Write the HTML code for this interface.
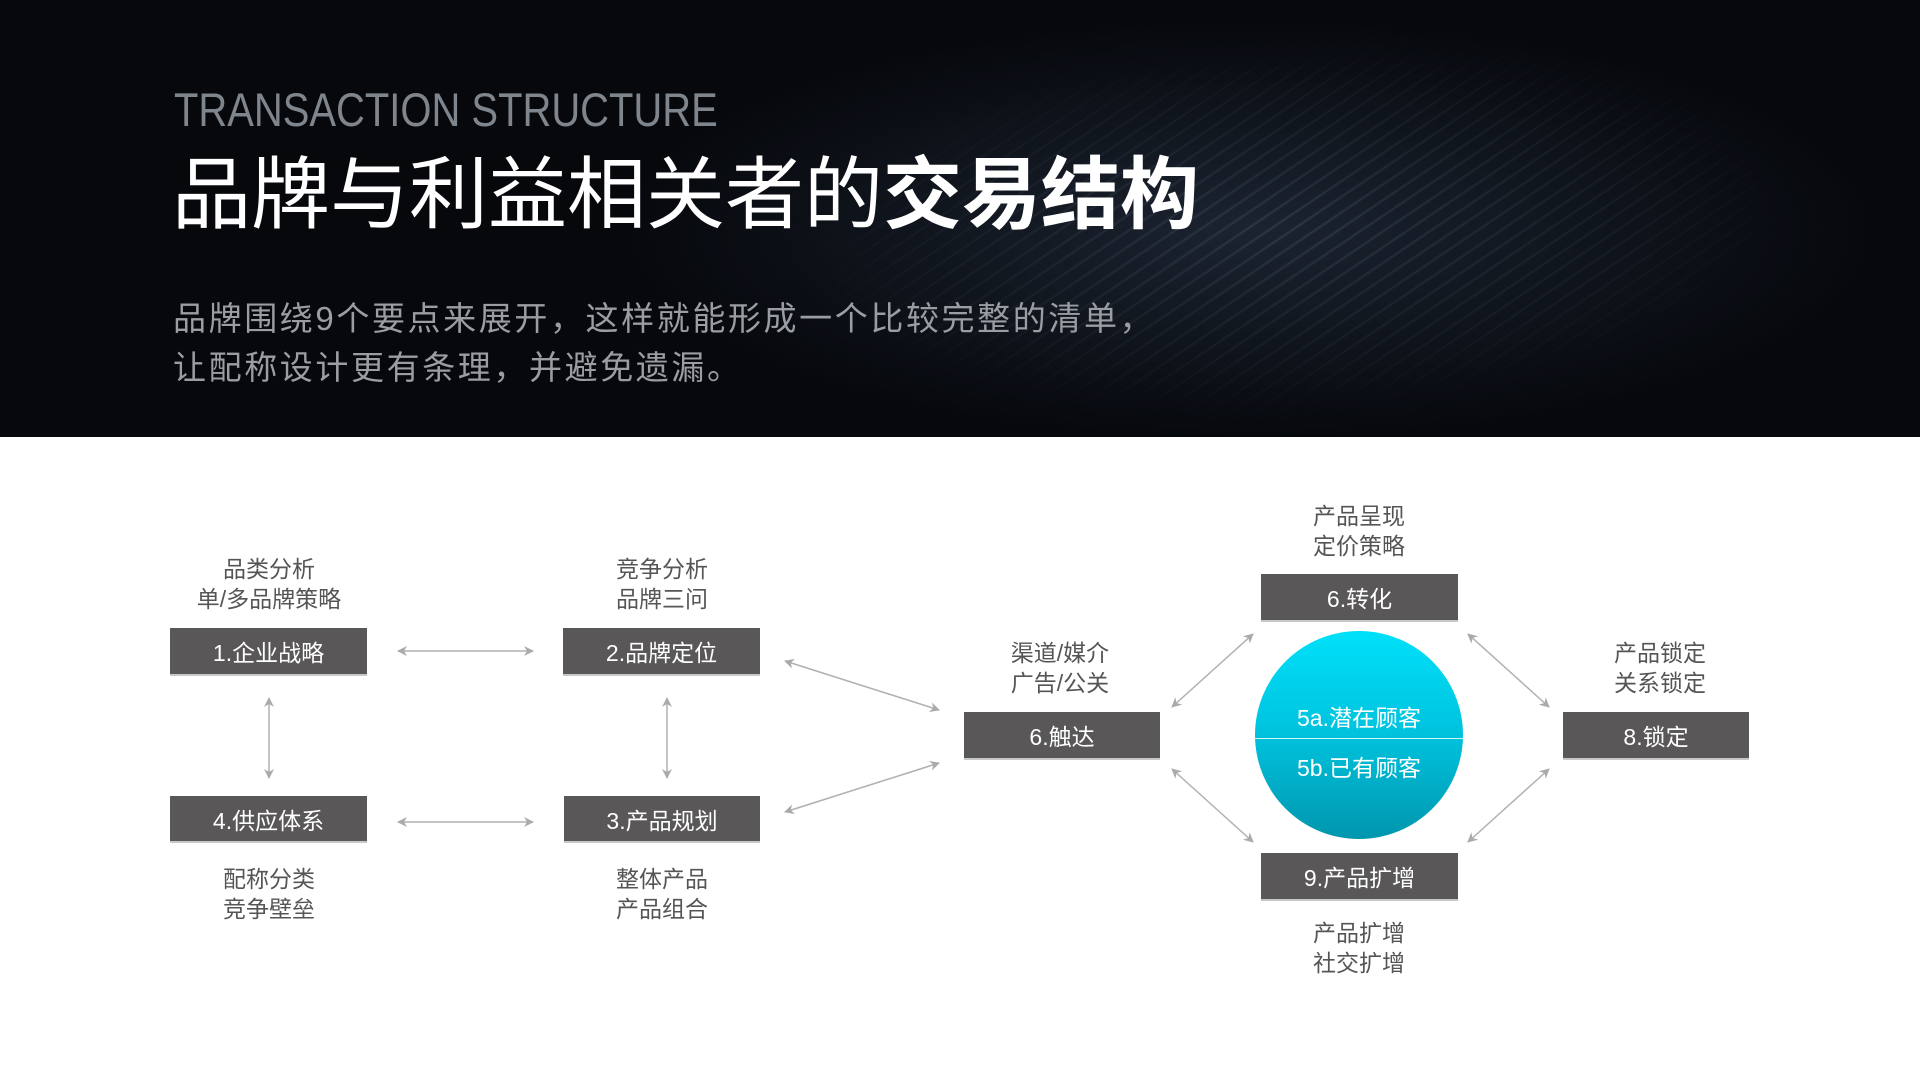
<!DOCTYPE html>
<html><head><meta charset="utf-8"><style>
html,body{margin:0;padding:0;width:1920px;height:1080px;overflow:hidden;background:#fff;font-family:"Liberation Sans","Noto Sans CJK SC",sans-serif;}
.hdr{position:absolute;left:0;top:0;width:1920px;height:437px;background:#06080c;overflow:hidden;}
.glow{position:absolute;left:0;top:0;width:1920px;height:437px;background:radial-gradient(ellipse 900px 300px at 1250px 230px,rgba(45,58,78,.55),rgba(0,0,0,0) 70%);}
.stripes{position:absolute;left:700px;top:-200px;width:1400px;height:800px;background:repeating-linear-gradient(150deg,rgba(120,140,170,0) 0px,rgba(120,140,170,0) 9px,rgba(120,140,170,.22) 11px,rgba(120,140,170,0) 13px);transform:rotate(-4deg);-webkit-mask-image:radial-gradient(ellipse 700px 260px at 600px 420px,#000,transparent 75%);mask-image:radial-gradient(ellipse 700px 260px at 600px 420px,#000,transparent 75%);}
.t1{position:absolute;left:174px;top:82px;font-size:47px;color:#7f858c;font-weight:300;transform:scaleX(0.85);transform-origin:0 0;white-space:nowrap;}
.t2{position:absolute;left:172px;top:150px;font-size:79px;color:#fff;line-height:90px;white-space:nowrap;}
.t2 b{font-weight:bold;}
.t3{position:absolute;left:173px;top:294px;font-size:33px;line-height:49px;color:#9a9da2;white-space:nowrap;letter-spacing:2.6px;}
.box{position:absolute;background:#595758;color:#fff;font-size:23px;display:flex;align-items:center;justify-content:center;box-shadow:0 2px 0 #c8c8c8;}
.lab{position:absolute;font-size:23px;line-height:30px;color:#555;text-align:center;width:240px;}
.circ{position:absolute;left:1255px;top:631px;width:208px;height:208px;border-radius:50%;background:linear-gradient(#00e0fa,#00c2dd 50%,#0096ae);overflow:hidden;}
.circ .ln{position:absolute;left:0;top:107px;width:208px;height:1px;background:#cdf6fc;}
.circ div.tx{position:absolute;width:208px;text-align:center;color:#fff;font-size:23px;}
</style></head><body>
<div class="hdr"><div class="glow"></div><div class="stripes"></div>
<div class="t1">TRANSACTION STRUCTURE</div>
<div class="t2">品牌与利益相关者的<b>交易结构</b></div>
<div class="t3">品牌围绕9个要点来展开，这样就能形成一个比较完整的清单，<br>让配称设计更有条理，并避免遗漏。</div>
</div>

<div class="lab" style="left:149px;top:554px">品类分析<br>单/多品牌策略</div>
<div class="lab" style="left:542px;top:554px">竞争分析<br>品牌三问</div>
<div class="lab" style="left:149px;top:864px">配称分类<br>竞争壁垒</div>
<div class="lab" style="left:542px;top:864px">整体产品<br>产品组合</div>
<div class="lab" style="left:940px;top:638px">渠道/媒介<br>广告/公关</div>
<div class="lab" style="left:1239px;top:501px">产品呈现<br>定价策略</div>
<div class="lab" style="left:1540px;top:638px">产品锁定<br>关系锁定</div>
<div class="lab" style="left:1239px;top:918px">产品扩增<br>社交扩增</div>

<div class="box" style="left:170px;top:628px;width:197px;height:46px">1.企业战略</div>
<div class="box" style="left:563px;top:628px;width:197px;height:46px">2.品牌定位</div>
<div class="box" style="left:170px;top:796px;width:197px;height:45px">4.供应体系</div>
<div class="box" style="left:564px;top:796px;width:196px;height:45px">3.产品规划</div>
<div class="box" style="left:964px;top:712px;width:196px;height:46px">6.触达</div>
<div class="box" style="left:1261px;top:574px;width:197px;height:46px">6.转化</div>
<div class="box" style="left:1261px;top:853px;width:197px;height:46px">9.产品扩增</div>
<div class="box" style="left:1563px;top:712px;width:186px;height:46px">8.锁定</div>

<div class="circ"><div class="ln"></div>
<div class="tx" style="top:68px">5a.潜在顾客</div>
<div class="tx" style="top:118px">5b.已有顾客</div></div>

<svg style="position:absolute;left:0;top:0" width="1920" height="1080">
<defs><marker id="a" viewBox="0 0 10 10" refX="9" refY="5" markerWidth="10" markerHeight="10" markerUnits="userSpaceOnUse" orient="auto-start-reverse"><path d="M0,0 L10,5 L0,10 L3,5 z" fill="#aaa"/></marker></defs>
<g stroke="#b0b0b0" stroke-width="1.5" fill="none" marker-start="url(#a)" marker-end="url(#a)">
<line x1="398" y1="651" x2="533" y2="651"/>
<line x1="398" y1="822" x2="533" y2="822"/>
<line x1="269" y1="698" x2="269" y2="778"/>
<line x1="667" y1="698" x2="667" y2="778"/>
<line x1="785" y1="661" x2="939" y2="710"/>
<line x1="785" y1="812" x2="939" y2="763"/>
<line x1="1172" y1="707" x2="1253" y2="634"/>
<line x1="1172" y1="769" x2="1253" y2="842"/>
<line x1="1468" y1="634" x2="1549" y2="707"/>
<line x1="1468" y1="842" x2="1549" y2="769"/>
</g></svg>
</body></html>
